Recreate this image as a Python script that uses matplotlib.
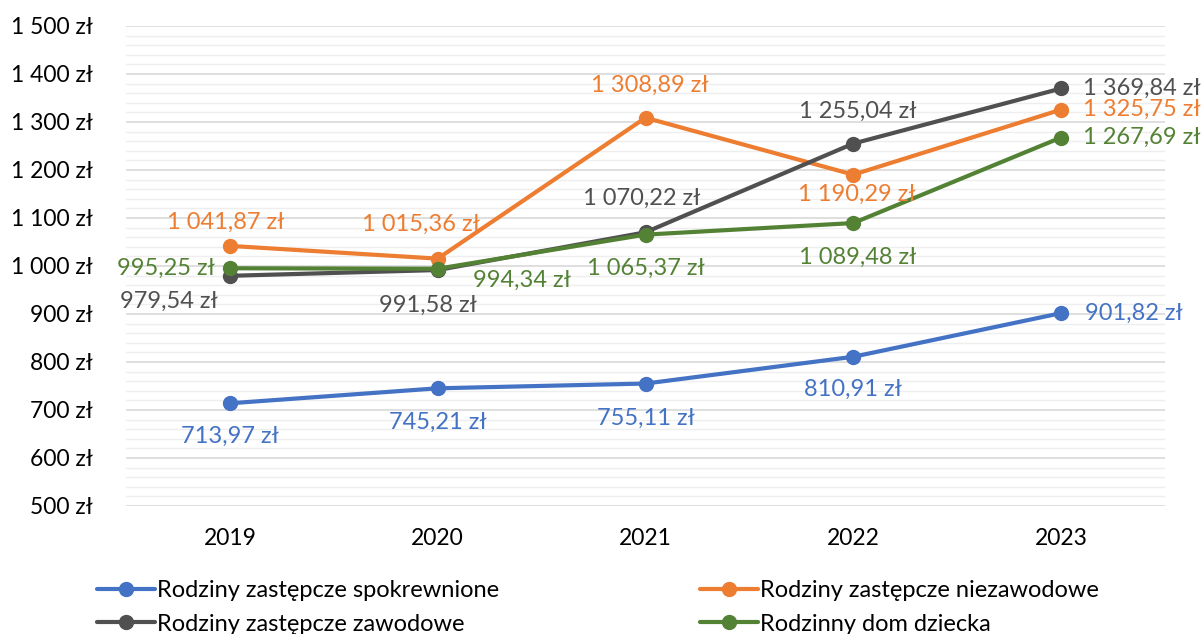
import matplotlib.pyplot as plt
from matplotlib.ticker import MultipleLocator, FuncFormatter

plt.rcParams['font.family'] = ['Lato', 'DejaVu Sans']

years = ["2019", "2020", "2021", "2022", "2023"]

spokrewnione = [713.97, 745.21, 755.11, 810.91, 901.82]
niezawodowe = [1041.87, 1015.36, 1308.89, 1190.29, 1325.75]
zawodowe = [979.54, 991.58, 1070.22, 1255.04, 1369.84]
dom_dziecka = [995.25, 994.34, 1065.37, 1089.48, 1267.69]

names = ["Rodziny zastępcze spokrewnione", "Rodziny zastępcze niezawodowe",
         "Rodziny zastępcze zawodowe", "Rodzinny dom dziecka"]
colors = ["#4472C4", "#ED7D31", "#505050", "#548235"]

# label placement per point: (dx px, dy px, ha)
label_pos = [
    [(0, -33, "center"), (0, -34, "center"), (0, -35, "center"), (0, -33, "center"), (24, 0, "left")],
    [(-4, 24, "center"), (-17, 34, "center"), (4, 32, "center"), (4, -20, "center"), (22, 0, "left")],
    [(-12, -26, "right"), (-10, -35, "center"), (-4, 34, "center"), (4, 32, "center"), (22, 0, "left")],
    [(-15, 0, "right"), (35, -12, "left"), (0, -34, "center"), (4, -34, "center"), (22, 0, "left")],
]


def fmt_zl(v, decimals=2):
    s = f"{v:,.{decimals}f}".replace(",", " ").replace(".", ",")
    return s + " zł"


fig = plt.figure(figsize=(12.01, 6.34), dpi=100)
ax = fig.add_axes([126 / 1201, 1 - 506 / 634, (1165 - 126) / 1201, 480 / 634])

series = [spokrewnione, niezawodowe, zawodowe, dom_dziecka]
x = list(range(len(years)))
lines = []
for vals, name, c in zip(series, names, colors):
    ln, = ax.plot(x, vals, color=c, lw=3, marker="o", ms=10, label=name,
                  solid_capstyle="round", zorder=3)
    lines.append(ln)

for vals, c, pos in zip(series, colors, label_pos):
    for i, v in enumerate(vals):
        dx, dy, ha = pos[i]
        ax.annotate(fmt_zl(v), (i, v), xytext=(dx, dy), textcoords="offset pixels",
                    ha=ha, va="center", color=c, fontsize=17, annotation_clip=False)

ax.set_xlim(-0.5, 4.5)
ax.set_ylim(500, 1500)
ax.set_xticks(x)
ax.set_xticklabels(years)
ax.yaxis.set_major_locator(MultipleLocator(100))
ax.yaxis.set_minor_locator(MultipleLocator(20))
ax.yaxis.set_major_formatter(FuncFormatter(lambda v, p: fmt_zl(v, 0)))
ax.grid(axis="y", which="major", color="#d9d9d9", lw=1.2)
ax.grid(axis="y", which="minor", color="#eeeeee", lw=1.0)
ax.set_axisbelow(True)
for s in ax.spines.values():
    s.set_visible(False)
ax.tick_params(axis="both", which="both", length=0, labelsize=16.5, colors="#000000")
ax.tick_params(axis="y", pad=24)
ax.tick_params(axis="x", pad=16)

# row-wise order for a 2-column legend
order = [0, 2, 1, 3]
fig.legend(handles=[lines[i] for i in order], labels=[names[i] for i in order],
           loc="upper left", bbox_to_anchor=(97 / 1201, 1 - 580 / 634), ncol=2,
           frameon=False, fontsize=17, handlelength=2.45, handletextpad=0.1,
           columnspacing=8.5, labelspacing=0.53, borderpad=0, borderaxespad=0)

fig.savefig("out.png", dpi=100)
